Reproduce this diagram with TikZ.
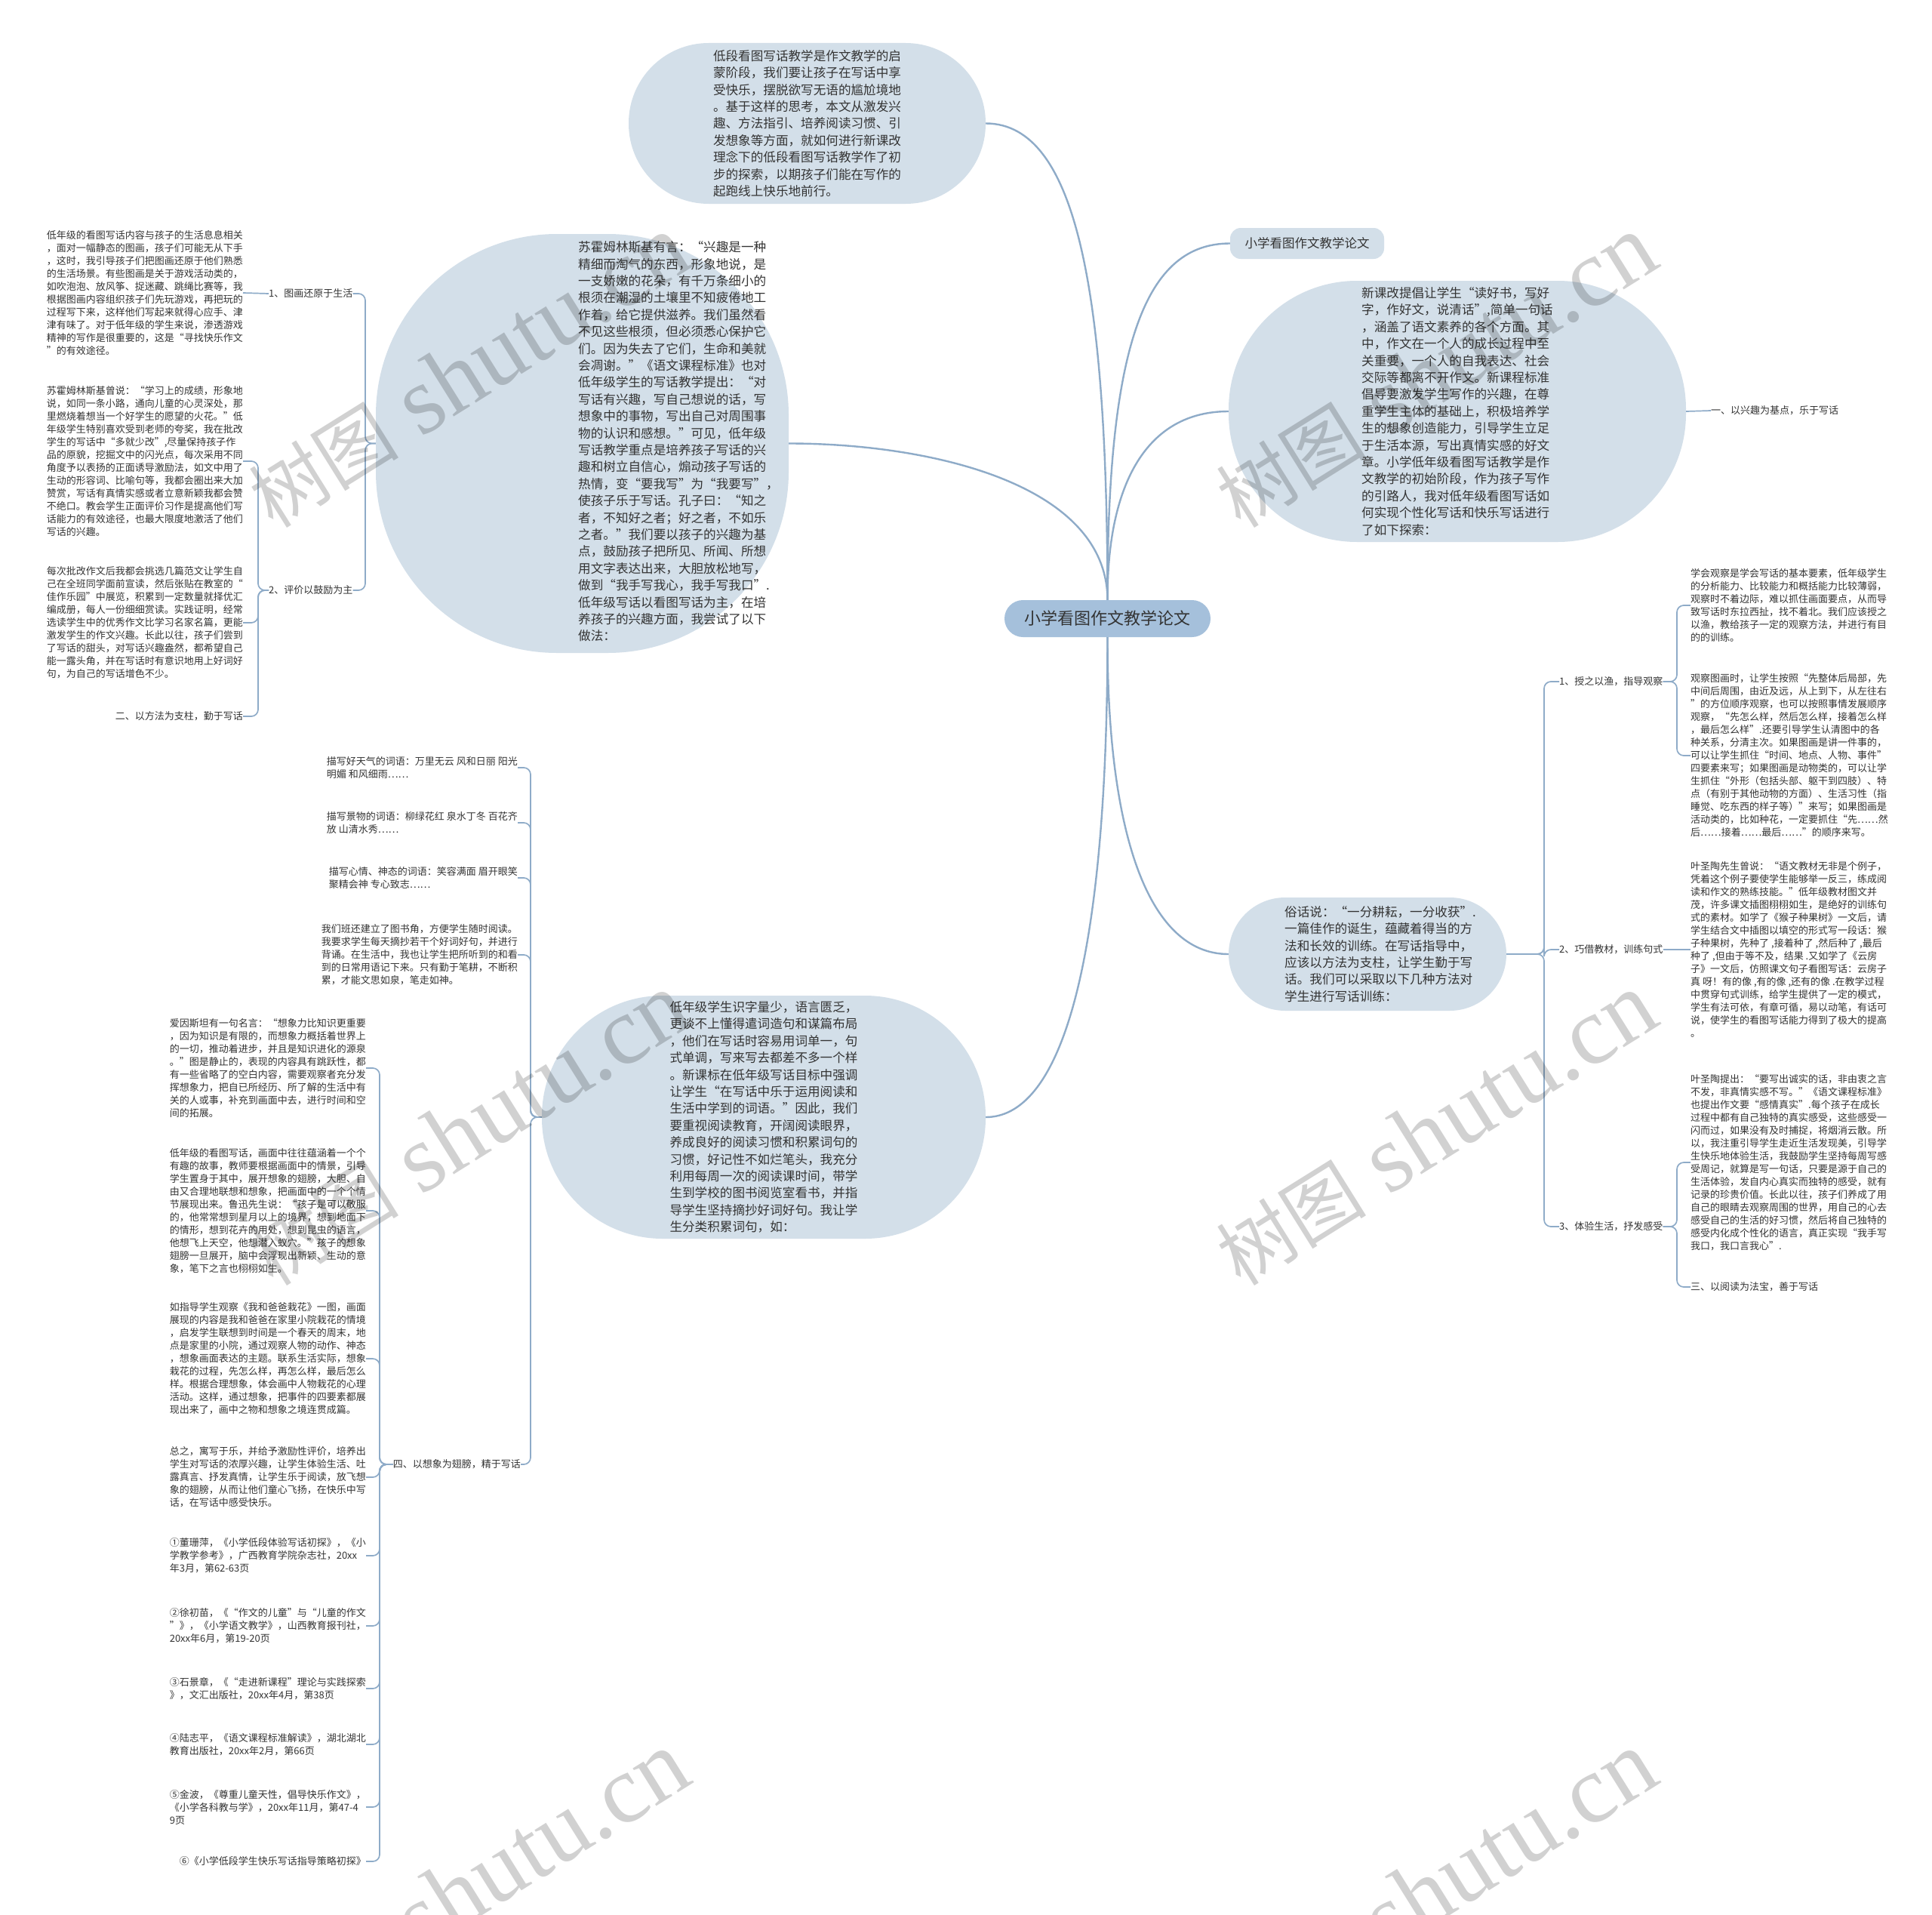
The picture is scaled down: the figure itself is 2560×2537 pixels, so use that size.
\documentclass[tikz,border=0pt]{standalone}
\usepackage{fontspec}
\setmainfont{Noto Sans CJK SC}
\newfontfamily\wmlatin{Liberation Serif}
\newfontfamily\wmcjk{Noto Sans CJK SC}
\definecolor{bub}{HTML}{D3DFE9}
\definecolor{ctrfill}{HTML}{A5C0DB}
\definecolor{lncol}{HTML}{8EABC8}
\definecolor{txtcol}{HTML}{333333}
\begin{document}
\begin{tikzpicture}[x=1pt,y=-1pt,
  bubble/.style={fill=bub, draw=none, rounded corners=#1, inner sep=0pt},
  bigtext/.style={font=\fontsize{16.6}{22.4}\selectfont, align=left, text=txtcol, inner sep=0pt},
  smalltext/.style={font=\fontsize{13}{17}\selectfont, align=left, text=txtcol, inner sep=0pt},
  conn/.style={draw=lncol, line width=2.4pt},
  brk/.style={draw=lncol, line width=1.7pt, rounded corners=9pt},
  wmark/.style={text=black, opacity=0.18, rotate=32, anchor=base west, inner sep=0pt},
]
\fill[white] (0,0) rectangle (2560,2537);
\useasboundingbox (0,0) rectangle (2560,2537);

% ---------- central node ----------
\node[bubble=24.5pt, fill=ctrfill, minimum width=273pt, minimum height=49pt,
      font=\fontsize{22}{26}\selectfont, text=txtcol] (ctr) at (1467.5,819.5) {小学看图作文教学论文};

% ---------- bubbles ----------
\node[bubble=106pt, minimum width=473pt, minimum height=213pt, bigtext] (top) at (1069.5,163.5)
{低段看图写话教学是作文教学的启\\
蒙阶段，我们要让孩子在写话中享\\
受快乐，摆脱欲写无语的尴尬境地\\
。基于这样的思考，本文从激发兴\\
趣、方法指引、培养阅读习惯、引\\
发想象等方面，就如何进行新课改\\
理念下的低段看图写话教学作了初\\
步的探索，以期孩子们能在写作的\\
起跑线上快乐地前行。};

\node[bubble=240pt, minimum width=547pt, minimum height=555pt] (big) at (771.5,587.5) {};
\node[bigtext] (bigtxt) at (899,585)
{苏霍姆林斯基有言：“兴趣是一种\\
精细而淘气的东西，形象地说，是\\
一支娇嫩的花朵，有千万条细小的\\
根须在潮湿的土壤里不知疲倦地工\\
作着，给它提供滋养。我们虽然看\\
不见这些根须，但必须悉心保护它\\
们。因为失去了它们，生命和美就\\
会凋谢。”《语文课程标准》也对\\
低年级学生的写话教学提出：“对\\
写话有兴趣，写自己想说的话，写\\
想象中的事物，写出自己对周围事\\
物的认识和感想。”可见，低年级\\
写话教学重点是培养孩子写话的兴\\
趣和树立自信心，煽动孩子写话的\\
热情，变“要我写”为“我要写”，\\
使孩子乐于写话。孔子曰：“知之\\
者，不知好之者；好之者，不如乐\\
之者。”我们要以孩子的兴趣为基\\
点，鼓励孩子把所见、所闻、所想\\
用文字表达出来，大胆放松地写，\\
做到“我手写我心，我手写我口”.\\
低年级写话以看图写话为主，在培\\
养孩子的兴趣方面，我尝试了以下\\
做法：};

\node[bubble=14pt, minimum width=204pt, minimum height=41pt,
      font=\fontsize{16.5}{20}\selectfont, text=txtcol] (lab) at (1732,322.5) {小学看图作文教学论文};

\node[bubble=170pt, minimum width=606pt, minimum height=346pt, bigtext] (rtop) at (1931,545)
{新课改提倡让学生“读好书，写好\\
字，作好文，说清话”,简单一句话\\
，涵盖了语文素养的各个方面。其\\
中，作文在一个人的成长过程中至\\
关重要，一个人的自我表达、社会\\
交际等都离不开作文。新课程标准\\
倡导要激发学生写作的兴趣，在尊\\
重学生主体的基础上，积极培养学\\
生的想象创造能力，引导学生立足\\
于生活本源，写出真情实感的好文\\
章。小学低年级看图写话教学是作\\
文教学的初始阶段，作为孩子写作\\
的引路人，我对低年级看图写话如\\
何实现个性化写话和快乐写话进行\\
了如下探索：};

\node[bubble=75pt, minimum width=368pt, minimum height=150pt] (bright) at (1812,1264) {};
\node[bigtext] (brighttxt) at (1829,1264)
{俗话说：“一分耕耘，一分收获”.\\
一篇佳作的诞生，蕴藏着得当的方\\
法和长效的训练。在写话指导中，\\
应该以方法为支柱，让学生勤于写\\
话。我们可以采取以下几种方法对\\
学生进行写话训练：};

\node[bubble=160pt, minimum width=588pt, minimum height=322pt, bigtext] (bcen) at (1012,1480)
{低年级学生识字量少，语言匮乏，\\
更谈不上懂得遣词造句和谋篇布局\\
，他们在写话时容易用词单一，句\\
式单调，写来写去都差不多一个样\\
。新课标在低年级写话目标中强调\\
让学生“在写话中乐于运用阅读和\\
生活中学到的词语。”因此，我们\\
要重视阅读教育，开阔阅读眼界，\\
养成良好的阅读习惯和积累词句的\\
习惯，好记性不如烂笔头，我充分\\
利用每周一次的阅读课时间，带学\\
生到学校的图书阅览室看书，并指\\
导学生坚持摘抄好词好句。我让学\\
生分类积累词句，如：};

% ---------- upper left branch ----------
\node[smalltext, anchor=west] (l1) at (356,389) {1、图画还原于生活};
\node[smalltext, anchor=west] (l2) at (356,782) {2、评价以鼓励为主};
\node[smalltext, anchor=east] (pl1) at (322,388)
{低年级的看图写话内容与孩子的生活息息相关\\
，面对一幅静态的图画，孩子们可能无从下手\\
，这时，我引导孩子们把图画还原于他们熟悉\\
的生活场景。有些图画是关于游戏活动类的，\\
如吹泡泡、放风筝、捉迷藏、跳绳比赛等，我\\
根据图画内容组织孩子们先玩游戏，再把玩的\\
过程写下来，这样他们写起来就得心应手、津\\
津有味了。对于低年级的学生来说，渗透游戏\\
精神的写作是很重要的，这是“寻找快乐作文\\
”的有效途径。};
\node[smalltext, anchor=east] (pl2) at (322,611)
{苏霍姆林斯基曾说：“学习上的成绩，形象地\\
说，如同一条小路，通向儿童的心灵深处，那\\
里燃烧着想当一个好学生的愿望的火花。”低\\
年级学生特别喜欢受到老师的夸奖，我在批改\\
学生的写话中“多就少改”,尽量保持孩子作\\
品的原貌，挖掘文中的闪光点，每次采用不同\\
角度予以表扬的正面诱导激励法，如文中用了\\
生动的形容词、比喻句等，我都会圈出来大加\\
赞赏，写话有真情实感或者立意新颖我都会赞\\
不绝口。教会学生正面评价习作是提高他们写\\
话能力的有效途径，也最大限度地激活了他们\\
写话的兴趣。};
\node[smalltext, anchor=east] (pl3) at (322,825)
{每次批改作文后我都会挑选几篇范文让学生自\\
己在全班同学面前宣读，然后张贴在教室的“\\
佳作乐园”中展览，积累到一定数量就择优汇\\
编成册，每人一份细细赏读。实践证明，经常\\
选读学生中的优秀作文比学习名家名篇，更能\\
激发学生的作文兴趣。长此以往，孩子们尝到\\
了写话的甜头，对写话兴趣盎然，都希望自己\\
能一露头角，并在写话时有意识地用上好词好\\
句，为自己的写话增色不少。};
\node[smalltext, anchor=east] (l3) at (322,949) {二、以方法为支柱，勤于写话};

% ---------- right branch ----------
\node[smalltext, anchor=west] (h1) at (2267,544) {一、以兴趣为基点，乐于写话};
\node[smalltext, anchor=west] (a1) at (2066,903) {1、授之以渔，指导观察};
\node[smalltext, anchor=west] (a2) at (2066,1258) {2、巧借教材，训练句式};
\node[smalltext, anchor=west] (a3) at (2066,1625) {3、体验生活，抒发感受};
\node[smalltext, anchor=west] (r1) at (2240,802)
{学会观察是学会写话的基本要素，低年级学生\\
的分析能力、比较能力和概括能力比较薄弱，\\
观察时不着边际，难以抓住画面要点，从而导\\
致写话时东拉西扯，找不着北。我们应该授之\\
以渔，教给孩子一定的观察方法，并进行有目\\
的的训练。};
\node[smalltext, anchor=west] (r2) at (2240,1001)
{观察图画时，让学生按照“先整体后局部，先\\
中间后周围，由近及远，从上到下，从左往右\\
”的方位顺序观察，也可以按照事情发展顺序\\
观察，“先怎么样，然后怎么样，接着怎么样\\
，最后怎么样”.还要引导学生认清图中的各\\
种关系，分清主次。如果图画是讲一件事的，\\
可以让学生抓住“时间、地点、人物、事件”\\
四要素来写；如果图画是动物类的，可以让学\\
生抓住“外形（包括头部、躯干到四肢）、特\\
点（有别于其他动物的方面）、生活习性（指\\
睡觉、吃东西的样子等）”来写；如果图画是\\
活动类的，比如种花，一定要抓住“先……然\\
后……接着……最后……”的顺序来写。};
\node[smalltext, anchor=west] (r3) at (2240,1258)
{叶圣陶先生曾说：“语文教材无非是个例子，\\
凭着这个例子要使学生能够举一反三，练成阅\\
读和作文的熟练技能。”低年级教材图文并\\
茂，许多课文插图栩栩如生，是绝好的训练句\\
式的素材。如学了《猴子种果树》一文后，请\\
学生结合文中插图以填空的形式写一段话：猴\\
子种果树，先种了 ,接着种了 ,然后种了 ,最后\\
种了 ,但由于等不及，结果 .又如学了《云房\\
子》一文后，仿照课文句子看图写话：云房子\\
真 呀！有的像 ,有的像 ,还有的像 .在教学过程\\
中贯穿句式训练，给学生提供了一定的模式，\\
学生有法可依，有章可循，易以动笔，有话可\\
说，使学生的看图写话能力得到了极大的提高\\
。};
\node[smalltext, anchor=west] (r4) at (2240,1540)
{叶圣陶提出：“要写出诚实的话，非由衷之言\\
不发，非真情实感不写。”《语文课程标准》\\
也提出作文要“感情真实”.每个孩子在成长\\
过程中都有自己独特的真实感受，这些感受一\\
闪而过，如果没有及时捕捉，将烟消云散。所\\
以，我注重引导学生走近生活发现美，引导学\\
生快乐地体验生活，我鼓励学生坚持每周写感\\
受周记，就算是写一句话，只要是源于自己的\\
生活体验，发自内心真实而独特的感受，就有\\
记录的珍贵价值。长此以往，孩子们养成了用\\
自己的眼睛去观察周围的世界，用自己的心去\\
感受自己的生活的好习惯，然后将自己独特的\\
感受内化成个性化的语言，真正实现“我手写\\
我口，我口言我心”.};
\node[smalltext, anchor=west] (h3) at (2240,1705) {三、以阅读为法宝，善于写话};

% ---------- lower left branch ----------
\node[smalltext, anchor=east] (m1) at (686,1017) {描写好天气的词语：万里无云 风和日丽 阳光\\明媚 和风细雨……};
\node[smalltext, anchor=east] (m2) at (686,1090) {描写景物的词语：柳绿花红 泉水丁冬 百花齐\\放 山清水秀……};
\node[smalltext, anchor=east] (m3) at (686,1163) {描写心情、神态的词语：笑容满面 眉开眼笑\\聚精会神 专心致志……};
\node[smalltext, anchor=east] (m4) at (686,1265)
{我们班还建立了图书角，方便学生随时阅读。\\
我要求学生每天摘抄若干个好词好句，并进行\\
背诵。在生活中，我也让学生把所听到的和看\\
到的日常用语记下来。只有勤于笔耕，不断积\\
累，才能文思如泉，笔走如神。};
\node[smalltext, anchor=east] (l4) at (690,1940) {四、以想象为翅膀，精于写话};

\node[smalltext, anchor=east] (pb1) at (485,1415)
{爱因斯坦有一句名言：“想象力比知识更重要\\
，因为知识是有限的，而想象力概括着世界上\\
的一切，推动着进步，并且是知识进化的源泉\\
。”图是静止的，表现的内容具有跳跃性，都\\
有一些省略了的空白内容，需要观察者充分发\\
挥想象力，把自已所经历、所了解的生活中有\\
关的人或事，补充到画面中去，进行时间和空\\
间的拓展。};
\node[smalltext, anchor=east] (pb2) at (485,1604)
{低年级的看图写话，画面中往往蕴涵着一个个\\
有趣的故事，教师要根据画面中的情景，引导\\
学生置身于其中，展开想象的翅膀，大胆、自\\
由又合理地联想和想象，把画面中的一个个情\\
节展现出来。鲁迅先生说：“孩子是可以敬服\\
的，他常常想到星月以上的境界，想到地面下\\
的情形，想到花卉的用处，想到昆虫的语言，\\
他想飞上天空，他想潜入蚁穴。”孩子的想象\\
翅膀一旦展开，脑中会浮现出新颖、生动的意\\
象，笔下之言也栩栩如生。};
\node[smalltext, anchor=east] (pb3) at (485,1800)
{如指导学生观察《我和爸爸栽花》一图，画面\\
展现的内容是我和爸爸在家里小院栽花的情境\\
，启发学生联想到时间是一个春天的周末，地\\
点是家里的小院，通过观察人物的动作、神态\\
，想象画面表达的主题。联系生活实际，想象\\
栽花的过程，先怎么样，再怎么样，最后怎么\\
样。根据合理想象，体会画中人物栽花的心理\\
活动。这样，通过想象，把事件的四要素都展\\
现出来了，画中之物和想象之境连贯成篇。};
\node[smalltext, anchor=east] (pb4) at (485,1957)
{总之，寓写于乐，并给予激励性评价，培养出\\
学生对写话的浓厚兴趣，让学生体验生活、吐\\
露真言、抒发真情，让学生乐于阅读，放飞想\\
象的翅膀，从而让他们童心飞扬，在快乐中写\\
话，在写话中感受快乐。};
\node[smalltext, anchor=east] (rf1) at (485,2061)
{①董珊萍，《小学低段体验写话初探》，《小\\
学教学参考》，广西教育学院杂志社，20xx\\
年3月，第62-63页};
\node[smalltext, anchor=east] (rf2) at (485,2154)
{②徐初苗，《“作文的儿童”与“儿童的作文\\
”》，《小学语文教学》，山西教育报刊社，\\
20xx年6月，第19-20页};
\node[smalltext, anchor=east] (rf3) at (485,2237)
{③石景章，《“走进新课程”理论与实践探索\\
》，文汇出版社，20xx年4月，第38页};
\node[smalltext, anchor=east] (rf4) at (485,2311)
{④陆志平，《语文课程标准解读》，湖北湖北\\
教育出版社，20xx年2月，第66页};
\node[smalltext, anchor=east] (rf5) at (485,2394)
{⑤金波，《尊重儿童天性，倡导快乐作文》，\\
《小学各科教与学》，20xx年11月，第47-4\\
9页};
\node[smalltext, anchor=east] (rf6) at (485,2466) {⑥《小学低段学生快乐写话指导策略初探》};

% ---------- connectors from the centre ----------
\draw[conn] (ctr.north) .. controls (1467,400) and (1430,163.5) .. (top.east);
\draw[conn] (ctr.north) .. controls (1467,640) and (1230,587.5) .. (big.east);
\draw[conn] (ctr.north) .. controls (1467,450) and (1520,322.5) .. (lab.west);
\draw[conn] (ctr.north) .. controls (1467,640) and (1520,545) .. (rtop.west);
\draw[conn] (ctr.south) .. controls (1467,1100) and (1520,1264) .. (bright.west);
\draw[conn] (ctr.south) .. controls (1467,1300) and (1400,1480) .. (bcen.east);

% ---------- brackets ----------
\draw[brk] (big.west) -- (484,587.5) |- (l1.east);
\draw[brk] (big.west) -- (484,587.5) |- (l2.east);
\draw[brk] (l1.west) -- (pl1.east);
\draw[brk] (l2.west) -- (342,782) |- (pl2.east);
\draw[brk] (l2.west) -- (342,782) |- (pl3.east);
\draw[brk] (l2.west) -- (342,782) |- (l3.east);

\draw[brk] (rtop.east) -- (h1.west);
\draw[brk] (bright.east) -- (2046,1264) |- (a1.west);
\draw[brk] (bright.east) -- (2046,1264) |- (a2.west);
\draw[brk] (bright.east) -- (2046,1264) |- (a3.west);
\draw[brk] (a1.east) -- (2222,903) |- (r1.west);
\draw[brk] (a1.east) -- (2222,903) |- (r2.west);
\draw[brk] (a2.east) -- (r3.west);
\draw[brk] (a3.east) -- (2222,1625) |- (r4.west);
\draw[brk] (a3.east) -- (2222,1625) |- (h3.west);

\foreach \k in {m1,m2,m3,m4,l4}
  \draw[brk] (bcen.west) -- (703,1480) |- (\k.east);
\foreach \k in {pb1,pb2,pb3,pb4,rf1,rf2,rf3,rf4,rf5,rf6}
  \draw[brk] (l4.west) -- (503,1940) |- (\k.east);

% ---------- watermarks ----------
\foreach \wx/\wy [count=\i] in {362/702, 1644/702, 362/1706, 1644/1706, 362/2711, 1644/2711}
  \node[wmark] (wm\i) at (\wx,\wy) {{\wmcjk\fontsize{100}{110}\selectfont 树图}\hspace{30pt}{\wmlatin\fontsize{128}{130}\selectfont shutu.cn}};
\end{tikzpicture}
\end{document}
